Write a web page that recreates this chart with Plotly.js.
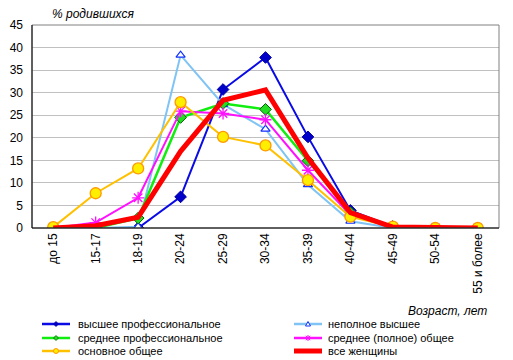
<!DOCTYPE html>
<html>
<head>
<meta charset="utf-8">
<script src="https://cdn.plot.ly/plotly-3.0.1.min.js"></script>
<style>html,body{margin:0;padding:0;background:#fff;}#chart{width:513px;height:360px;}</style>
</head>
<body>
<div id="chart"></div>
<script>
const categories = ['до 15','15-17','18-19','20-24','25-29','30-34','35-39','40-44','45-49','50-54','55 и более'];
const higherProf = [0, 0, 0, 6.9, 30.7, 37.8, 20.2, 3.9, 0.3, 0, 0];
const incompleteHigher = [0, 0, 0.3, 38.3, 27.4, 21.9, 9.6, 1.5, 0, 0, 0];
const secondaryProf = [0, 0, 2.2, 24.5, 27.6, 26.3, 14.9, 3.4, 0.3, 0, 0];
const secondaryGeneral = [0, 1.2, 6.7, 25.9, 25.4, 24.0, 12.8, 2.9, 0.2, 0, 0];
const basicGeneral = [0.2, 7.7, 13.2, 27.9, 20.2, 18.3, 10.6, 2.5, 0.3, 0, 0];
const allWomen = [0, 0.5, 2.4, 17.0, 28.3, 30.6, 15.5, 3.4, 0.2, 0, 0];
const seriesNames = ['высшее профессиональное','неполное высшее','среднее профессиональное','среднее (полное) общее','основное общее','все женщины'];
const yTicks = [0,5,10,15,20,25,30,35,40,45];

const FONT = 'Liberation Sans, Arial, sans-serif';
const L = 32, R = 499, T = 25, B = 228;
const px = x => (x - L) / (R - L);
const py = y => (B - y) / (B - T);

const traces = [
  {y: higherProf, name: seriesNames[0], line:{color:'#0a0ae6', width:2},
   marker:{symbol:'diamond', size:9, color:'#0000c8', line:{color:'#0000a0', width:1}}},
  {y: incompleteHigher, name: seriesNames[1], line:{color:'#7fc4f5', width:2},
   marker:{symbol:'triangle-up', size:8, color:'#ffffff', line:{color:'#1030ff', width:1.2}}},
  {y: secondaryProf, name: seriesNames[2], line:{color:'#10ee10', width:2.5},
   marker:{symbol:'diamond', size:9, color:'#22dd22', line:{color:'#006000', width:1}}},
  {y: secondaryGeneral, name: seriesNames[3], line:{color:'#ff10ff', width:2},
   marker:{symbol:'asterisk-open', size:10, color:'#ff10ff', line:{color:'#ff10ff', width:1.3}}},
  {y: basicGeneral, name: seriesNames[4], line:{color:'#ffc000', width:2},
   marker:{symbol:'circle', size:11, color:'#ffee00', line:{color:'#ff9900', width:1.3}}},
  {y: allWomen, name: seriesNames[5], line:{color:'#ff0000', width:5}, mode:'lines'}
].map(t => Object.assign({x: categories, type:'scatter', mode: t.mode || 'lines+markers', showlegend:false, hoverinfo:'none'}, t));

// custom legend (layout decoration)
const legendItems = [
  {col:0,row:0,i:0},{col:1,row:0,i:1},
  {col:0,row:1,i:2},{col:1,row:1,i:3},
  {col:0,row:2,i:4},{col:1,row:2,i:5}
];
const colX = [[42,70,76],[294,322,326]];
const rowY = [324, 338, 351];
const shapes = [
  {type:'rect', xref:'paper', yref:'paper', x0:0, x1:1, y0:0, y1:1, line:{color:'#808080', width:1}, layer:'above'},
  {type:'line', xref:'paper', yref:'paper', x0:0, x1:0, y0:0, y1:1, line:{color:'#000', width:1}, layer:'above'},
  {type:'line', xref:'paper', yref:'paper', x0:0, x1:1, y0:0, y1:0, line:{color:'#000', width:1}, layer:'above'}
];
const annotations = [
  {text:'<i>% родившихся</i>', xref:'paper', yref:'paper', x:px(50), y:py(14), xanchor:'left', yanchor:'middle', showarrow:false, font:{family:FONT, size:12, color:'#000'}},
  {text:'<i>Возраст, лет</i>', xref:'paper', yref:'paper', x:px(489), y:py(311), xanchor:'right', yanchor:'middle', showarrow:false, font:{family:FONT, size:12, color:'#000'}}
];
legendItems.forEach(it => {
  const tr = traces[it.i];
  const [x0, x1, tx] = colX[it.col];
  const y = rowY[it.row];
  const w = tr.line.width >= 4 ? 5 : 2.5;
  shapes.push({type:'line', xref:'paper', yref:'paper', x0:px(x0), x1:px(x1), y0:py(y), y1:py(y), line:{color:tr.line.color, width:w}});
  const cx = (x0 + x1) / 2, s = 2.5;
  if (tr.mode !== 'lines') {
    const m = tr.marker;
    if (m.symbol === 'diamond') {
      shapes.push({type:'path', xref:'paper', yref:'paper', path:`M${px(cx-s)},${py(y)} L${px(cx)},${py(y-s)} L${px(cx+s)},${py(y)} L${px(cx)},${py(y+s)} Z`, fillcolor:m.color, line:{color:m.line.color, width:0.8}});
    } else if (m.symbol === 'triangle-up') {
      shapes.push({type:'path', xref:'paper', yref:'paper', path:`M${px(cx-2.5)},${py(y+2)} L${px(cx)},${py(y-2.5)} L${px(cx+2.5)},${py(y+2)} Z`, fillcolor:'#ffffff', line:{color:m.line.color, width:1}});
    } else if (m.symbol === 'circle') {
      shapes.push({type:'circle', xref:'paper', yref:'paper', x0:px(cx-2.5), x1:px(cx+2.5), y0:py(y+2.5), y1:py(y-2.5), fillcolor:m.color, line:{color:m.line.color, width:1}});
    } else {
      shapes.push({type:'path', xref:'paper', yref:'paper', path:`M${px(cx-3)},${py(y)} L${px(cx+3)},${py(y)} M${px(cx)},${py(y-3)} L${px(cx)},${py(y+3)} M${px(cx-2.2)},${py(y-2.2)} L${px(cx+2.2)},${py(y+2.2)} M${px(cx-2.2)},${py(y+2.2)} L${px(cx+2.2)},${py(y-2.2)}`, line:{color:m.color, width:1}});
    }
  }
  annotations.push({text:tr.name, xref:'paper', yref:'paper', x:px(tx), y:py(y), xanchor:'left', yanchor:'middle', showarrow:false, font:{family:FONT, size:11, color:'#000'}});
});

const layout = {
  width:513, height:360,
  margin:{l:L, r:513-R, t:T, b:360-B, pad:0},
  paper_bgcolor:'#fff', plot_bgcolor:'#fff',
  showlegend:false,
  font:{family:FONT, size:12, color:'#000'},
  xaxis:{type:'category', range:[-0.5, 10.5], showgrid:false, zeroline:false, showline:false,
    ticks:'', tickangle:-90, tickfont:{family:FONT, size:12, color:'#000'}, ticklen:0, ticklabelstandoff:2, automargin:false},
  yaxis:{range:[0,45], tickvals:yTicks, showgrid:true, gridcolor:'#c0c0c0', gridwidth:1, zeroline:false, showline:false,
    ticks:'', tickfont:{family:FONT, size:12, color:'#000'}, ticklabelstandoff:8, automargin:false},
  shapes: shapes,
  annotations: annotations
};
Plotly.newPlot('chart', traces, layout, {staticPlot:true, displayModeBar:false});
</script>
</body>
</html>
